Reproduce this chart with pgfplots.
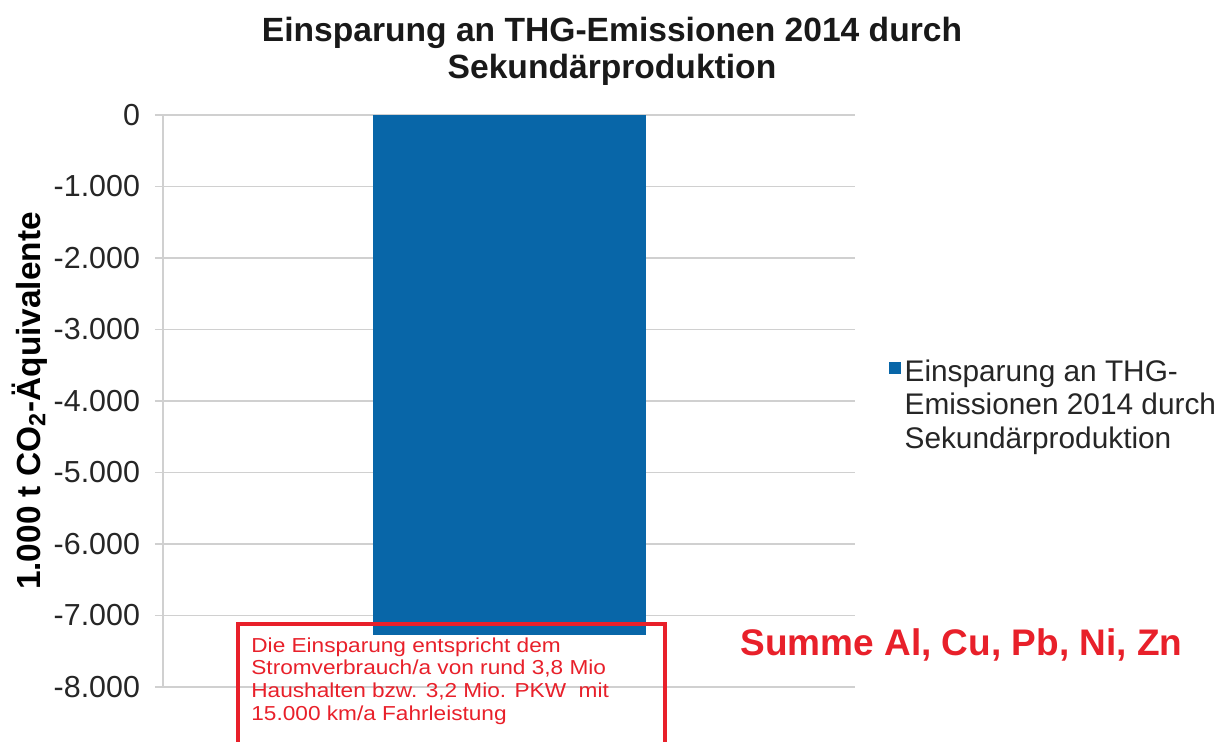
\documentclass[border=0pt]{standalone}
\usepackage{pgfplots}
\pgfplotsset{compat=1.18}
\usepackage{fontspec}
\setmainfont{Liberation Sans}
\newfontfamily\widefont[FakeStretch=1.12]{Liberation Sans}
\definecolor{barblue}{HTML}{0866A8}
\definecolor{gridgray}{HTML}{D0D0D0}
\definecolor{boxred}{HTML}{E8202A}
\begin{document}
\begin{tikzpicture}
% 1 px of the reference = 0.5pt
\useasboundingbox (0pt,0pt) rectangle (613.5pt,-371pt);
\begin{scope}
\clip (0pt,0pt) rectangle (613.5pt,-371pt);
\begin{axis}[
  at={(81.5pt,-343.5pt)}, anchor=south west,
  scale only axis,
  width=346pt, height=286pt,
  xmin=-1, xmax=1,
  ymin=-8000, ymax=0,
  axis x line=none,
  axis y line*=left,
  y axis line style={draw=gridgray, line width=0.8pt},
  ytick={-8000,-7000,...,0},
  yticklabels={-8.000,-7.000,-6.000,-5.000,-4.000,-3.000,-2.000,-1.000,0},
  yticklabel style={font=\fontsize{15.2}{18}\selectfont, text=black!85, xshift=-4pt},
  ytick style={draw=gridgray, line width=0.8pt},
  tick align=outside,
  major tick length=4pt,
  ymajorgrids,
  major grid style={draw=gridgray, line width=0.8pt},
  clip=false,
  ylabel={\textbf{1.000 t CO\textsubscript{2}-Äquivalente}},
  ylabel style={font=\fontsize{16.7}{19}\selectfont, yshift=-3.5pt},
  legend style={at={(axis description cs:1.048,0.554)}, anchor=west, draw=none, fill=none,
    font=\fontsize{14.9}{18}\selectfont, text=black!85, inner sep=0pt},
  legend cell align=left,
  legend image code/.code={\fill[barblue] (-1.5pt,-2pt) rectangle (4.5pt,4pt);},
]
\addplot[ybar, bar width=136.5pt, fill=barblue, draw=none] coordinates {(0,-7270)};
\addlegendentry{\begin{tabular}[t]{@{}l@{}}Einsparung an THG-\\[-1.3pt]Emissionen 2014 durch\\[-1.3pt]Sekundärproduktion\end{tabular}}
\end{axis}
\draw[boxred, line width=1.6pt] (119pt,-380pt) -- (119pt,-312pt) -- (332.5pt,-312pt) -- (332.5pt,-380pt);
\node[anchor=north west, align=left, text=boxred, inner sep=0pt,
  font=\widefont\fontsize{10.1}{11.4}\selectfont] at (125.5pt,-318.5pt)
  {Die Einsparung entspricht dem\\Stromverbrauch/a von rund 3,8 Mio\\Haushalten bzw. 3,2 Mio. PKW\ \ mit\\15.000 km/a Fahrleistung};
\end{scope}
\node[font=\fontsize{16.8}{18.5}\selectfont\bfseries, align=center, text=black!90] at (306pt,-25.5pt)
  {Einsparung an THG-Emissionen 2014 durch\\Sekundärproduktion};
\node[font=\fontsize{18.5}{20}\selectfont\bfseries, text=boxred, anchor=west, inner sep=0pt] at (370pt,-322.5pt)
  {Summe Al, Cu, Pb, Ni, Zn};
\end{tikzpicture}
\end{document}
